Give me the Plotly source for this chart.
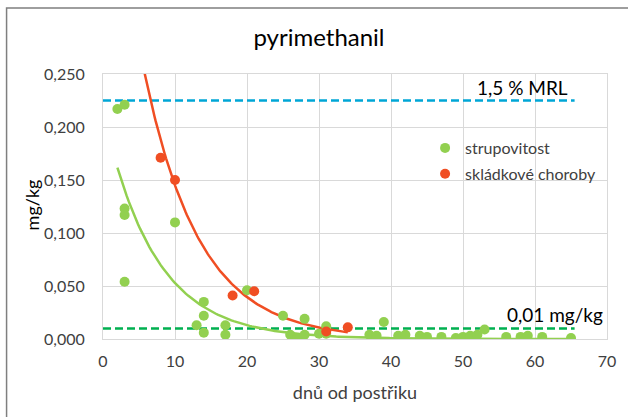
import numpy as np
import plotly.graph_objects as go

# ---- data ----
strup_x = [2, 3, 3, 3, 3, 10, 13, 14, 14, 14, 17, 17, 20, 25, 26, 27, 28, 28, 30, 31, 31,
           37, 38, 39, 41, 42, 44, 45, 47, 49, 50, 51, 52, 53, 56, 58, 59, 61, 65]
strup_y = [0.217, 0.221, 0.123, 0.117, 0.054, 0.110, 0.013, 0.035, 0.022, 0.006, 0.013, 0.004,
           0.046, 0.022, 0.004, 0.001, 0.019, 0.004, 0.005, 0.012, 0.005,
           0.004, 0.003, 0.016, 0.003, 0.004, 0.003, 0.002, 0.002, 0.001, 0.002, 0.003, 0.004,
           0.009, 0.002, 0.002, 0.003, 0.002, 0.001]

sklad_x = [8, 10, 18, 21, 31, 34]
sklad_y = [0.171, 0.150, 0.041, 0.045, 0.007, 0.011]

# exponential trendlines y = a * exp(-k x), parameters
strup_trend_a, strup_trend_k, strup_trend_range = 0.214, 0.14, (2, 65)
sklad_trend_a, sklad_trend_k, sklad_trend_range = 0.532, 0.13, (2, 34)

mrl_x = [0, 65.5]
mrl_y = [0.225, 0.225]
loq_x = [0, 65.5]
loq_y = [0.01, 0.01]

GREEN = "#92D050"
RED = "#F04E23"
FONT = "Lato, Carlito, Calibri, sans-serif"

fig = go.Figure()

fig.add_trace(go.Scatter(x=mrl_x, y=mrl_y, mode="lines", showlegend=False,
                         line=dict(color="#00A6D6", width=2.5, dash="8px,4px"), hoverinfo="skip"))
fig.add_trace(go.Scatter(x=loq_x, y=loq_y, mode="lines", showlegend=False,
                         line=dict(color="#00B050", width=2.5, dash="8px,4px"), hoverinfo="skip"))

tx = np.linspace(*strup_trend_range, 200)
fig.add_trace(go.Scatter(x=tx, y=strup_trend_a * np.exp(-strup_trend_k * tx), mode="lines",
                         showlegend=False, line=dict(color=GREEN, width=2.5)))
tx2 = np.linspace(*sklad_trend_range, 200)
fig.add_trace(go.Scatter(x=tx2, y=sklad_trend_a * np.exp(-sklad_trend_k * tx2), mode="lines",
                         showlegend=False, line=dict(color=RED, width=2.5)))

fig.add_trace(go.Scatter(x=strup_x, y=strup_y, mode="markers", name="strupovitost",
                         legendgroup="a", marker=dict(color=GREEN, size=10)))
fig.add_trace(go.Scatter(x=sklad_x, y=sklad_y, mode="markers", name="skládkové choroby",
                         legendgroup="b", marker=dict(color=RED, size=10)))

grid = "#D9D9D9"
PL, PW, PT, PH = 103, 507, 74, 265


def px_x(p):
    return (p - PL) / PW


def px_y(p):
    return (PT + PH - p) / PH


fig.update_layout(
    width=628, height=417,
    margin=dict(l=103, r=18, t=74, b=78),
    paper_bgcolor="white", plot_bgcolor="white",
    separators=", ",
    font=dict(family=FONT, size=16, color="#404040"),
    title=dict(text="pyrimethanil", x=319 / 628, xanchor="center", y=1 - 38 / 417, yanchor="middle",
               font=dict(size=24, color="#000000")),
    xaxis=dict(range=[0, 70], dtick=10, showgrid=True, gridcolor=grid, gridwidth=1,
               zeroline=False, showline=True, linecolor=grid, mirror=True,
               ticks="", ticklabelstandoff=8,
               title=dict(text="dnů od postřiku", standoff=17, font=dict(size=18, color="#404040"))),
    yaxis=dict(range=[0, 0.25], dtick=0.05, tickformat=".3f", showgrid=True, gridcolor=grid,
               gridwidth=1, zeroline=False, showline=True, linecolor=grid, mirror=True,
               ticks="", ticklabelstandoff=14),
    legend=dict(x=px_x(427), y=px_y(131), xanchor="left", yanchor="top",
                bgcolor="rgba(0,0,0,0)", tracegroupgap=2, font=dict(size=16, color="#404040")),
    showlegend=True,
    annotations=[
        dict(text="1,5 % MRL", x=px_x(525) * 70, y=0.225, xref="x", yref="y", showarrow=False,
             xanchor="center", yanchor="bottom", font=dict(size=19, color="#000000")),
        dict(text="0,01 mg/kg", x=px_x(558) * 70, y=0.01, xref="x", yref="y", showarrow=False,
             xanchor="center", yanchor="bottom", font=dict(size=19, color="#000000")),
        dict(text="mg/kg", x=px_x(32), y=px_y(205), xref="paper", yref="paper", showarrow=False,
             xanchor="center", yanchor="middle", textangle=-90, font=dict(size=18, color="#000000")),
    ],
    shapes=[dict(type="rect", xref="paper", yref="paper",
                 x0=px_x(6), x1=px_x(650), y0=px_y(440), y1=px_y(8),
                 line=dict(color="#7F7F7F", width=1.5), fillcolor="rgba(0,0,0,0)", layer="below")],
)

fig.write_html("out.html")
